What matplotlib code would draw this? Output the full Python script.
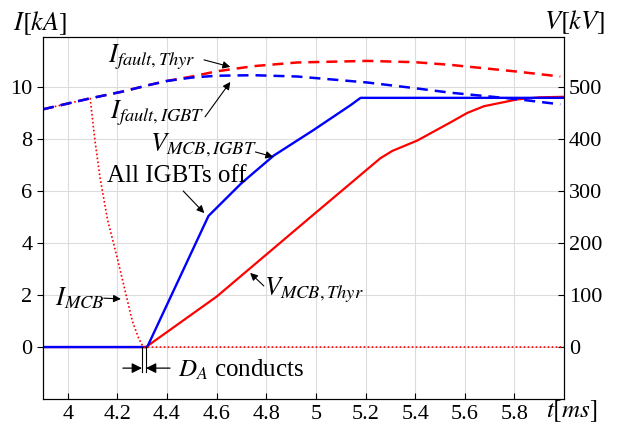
import matplotlib
matplotlib.use('Agg')
import matplotlib.pyplot as plt

plt.rcParams['font.family'] = ['Liberation Serif', 'DejaVu Serif']
plt.rcParams['mathtext.fontset'] = 'stix'

# fault currents [kA]
t_fault = [3.9, 4.09, 4.22, 4.33, 4.40, 4.50, 4.60, 4.75, 4.925, 5.207, 5.40, 5.54, 5.81, 5.985]
i_fault_thyr = [9.14, 9.56, 9.82, 10.08, 10.23, 10.40, 10.60, 10.80, 10.94, 11.00, 10.95, 10.85, 10.59, 10.40]
i_fault_igbt = [9.14, 9.56, 9.82, 10.08, 10.23, 10.36, 10.43, 10.45, 10.40, 10.17, 9.95, 9.78, 9.53, 9.33]

# current in main breaker [kA]
t_mcb = [3.9, 4.09, 4.11, 4.13, 4.16, 4.20, 4.23, 4.26, 4.285, 4.304, 6.0]
i_mcb = [9.14, 9.56, 7.9, 6.5, 4.9, 3.4, 2.2, 1.0, 0.35, 0.0, 0.0]

# breaker voltages [kV]
t_v_igbt = [3.9, 4.32, 4.567, 4.70, 4.83, 4.99, 5.14, 5.18, 5.5, 6.0]
v_igbt = [0, 0, 252, 315, 368, 417, 465, 479, 479, 479]
t_v_thyr = [3.9, 4.315, 4.6, 4.964, 5.26, 5.308, 5.409, 5.543, 5.61, 5.678, 5.812, 5.9, 6.0]
v_thyr = [0, 0, 97, 244, 363, 377, 397, 432, 450, 463, 476, 480, 481]

x_ticks = [4, 4.2, 4.4, 4.6, 4.8, 5, 5.2, 5.4, 5.6, 5.8]
x_labels = ['4', '4.2', '4.4', '4.6', '4.8', '5', '5.2', '5.4', '5.6', '5.8']
i_ticks = [0, 2, 4, 6, 8, 10]
v_ticks = [0, 100, 200, 300, 400, 500]

fig = plt.figure(figsize=(6.17, 4.25), dpi=100)
ax = fig.add_axes([0.0697, 0.061, 0.8444, 0.852])
ax2 = ax.twinx()

ax.set_xlim(3.9, 6.0)
ax.set_ylim(-2, 11.92)
ax2.set_ylim(-100, 596)

# grid on the lower (voltage) axes so it stays under every curve
grid_color = '#dcdcdc'
ax2.grid(True, axis='y', color=grid_color, lw=0.8)
for xt in x_ticks:
    ax2.axvline(xt, color=grid_color, lw=0.8, zorder=0.5)
ax2.set_axisbelow(True)

dash = (0, (4.4, 2.8))
# voltages (right axis)
ax2.plot(t_v_thyr, v_thyr, color='red', lw=1.6)
ax2.plot(t_v_igbt, v_igbt, color='blue', lw=1.7)
# currents (left axis) drawn on top
ax.set_zorder(ax2.get_zorder() + 1)
ax.patch.set_visible(False)
ax.plot(t_fault, i_fault_thyr, color='red', lw=1.8, linestyle=dash)
ax.plot(t_mcb, i_mcb, color='red', lw=1.2, linestyle=(0, (1, 1.4)))
ax.plot(t_fault, i_fault_igbt, color='blue', lw=1.8, linestyle=dash)

ax.set_xticks(x_ticks)
ax.set_xticklabels(x_labels)
ax.set_yticks(i_ticks)
ax2.set_yticks(v_ticks)
ax.tick_params(axis='x', direction='in', labelsize=16, length=4, pad=4)
ax.tick_params(axis='y', direction='out', labelsize=16, length=4)
ax2.tick_params(axis='y', direction='in', labelsize=16, length=4)

# axis labels
fig.text(0.065, 0.945, r'$I[kA]$', fontsize=19, ha='center', va='center')
fig.text(0.932, 0.948, r'$V[kV]$', fontsize=19, ha='center', va='center')
fig.text(0.927, 0.032, r'$t[ms]$', fontsize=18, ha='center', va='center')

arrow = dict(arrowstyle='-|>', color='black', lw=0.8, mutation_scale=11,
             shrinkA=0, shrinkB=0)
big_arrow = dict(arrowstyle='-|>', color='black', lw=0.9, mutation_scale=15,
                 shrinkA=0, shrinkB=0)
fs = 18
fm = 19

ax.text(4.339, 11.12, r'$I_{fault,Thyr}$', fontsize=fm, ha='center', va='center')
ax.annotate('', xy=(4.655, 10.77), xytext=(4.549, 11.04), arrowprops=arrow)

ax.text(4.36, 9.0, r'$I_{fault,IGBT}$', fontsize=fm, ha='center', va='center')
ax.annotate('', xy=(4.655, 10.19), xytext=(4.553, 8.85), arrowprops=arrow)

ax.text(4.545, 7.77, r'$V_{MCB,IGBT}$', fontsize=fm, ha='center', va='center')
ax.annotate('', xy=(4.828, 7.31), xytext=(4.756, 7.5), arrowprops=arrow)

ax.text(4.44, 6.58, 'All IGBTs off', fontsize=fs, ha='center', va='center')
ax.annotate('', xy=(4.55, 5.15), xytext=(4.465, 6.0), arrowprops=arrow)

ax.text(4.048, 1.88, r'$I_{MCB}$', fontsize=fm, ha='center', va='center')
ax.annotate('', xy=(4.214, 1.85), xytext=(4.145, 1.88), arrowprops=arrow)

ax.text(4.99, 2.2, r'$V_{MCB,Thyr}$', fontsize=fm, ha='center', va='center')
ax.annotate('', xy=(4.735, 2.85), xytext=(4.79, 2.35), arrowprops=arrow)

# diode conduction interval
ax.plot([4.300, 4.300], [0, -0.96], color='black', lw=0.8)
ax.plot([4.314, 4.314], [0, -0.96], color='black', lw=0.8)
ax.annotate('', xy=(4.299, -0.81), xytext=(4.222, -0.81), arrowprops=big_arrow)
ax.annotate('', xy=(4.315, -0.81), xytext=(4.412, -0.81), arrowprops=big_arrow)
ax.text(4.7, -0.88, r'$D_A$ conducts', fontsize=fs, ha='center', va='center')

fig.savefig('out.png', dpi=100)
